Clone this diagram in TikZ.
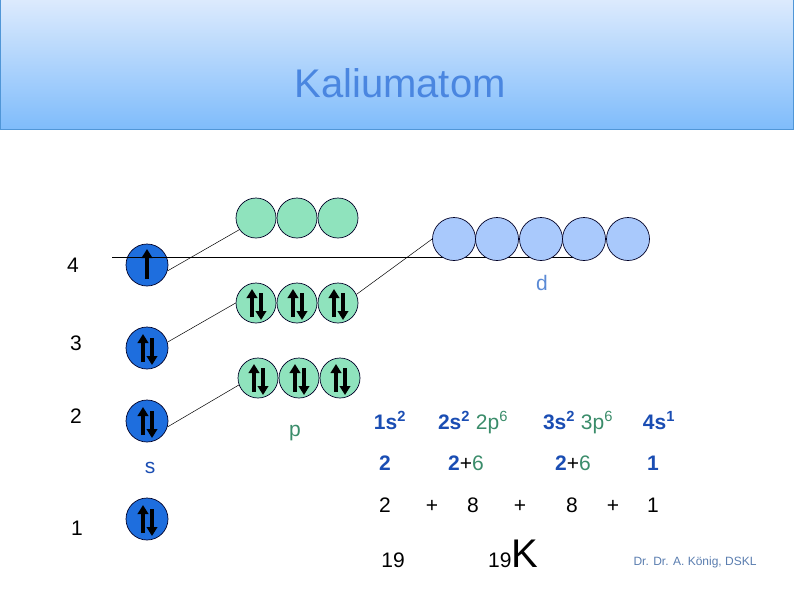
\documentclass[tikz,border=0pt]{standalone}
\usepackage{fontspec}
\setmainfont{Liberation Sans}
\usetikzlibrary{arrows.meta}

\definecolor{titletop}{RGB}{220,234,253}
\definecolor{titlebot}{RGB}{127,188,251}
\definecolor{titleline}{RGB}{80,150,215}
\definecolor{titletext}{RGB}{74,134,224}
\definecolor{sfill}{RGB}{30,110,222}
\definecolor{pfill}{RGB}{143,227,189}
\definecolor{dfill}{RGB}{169,201,252}
\definecolor{tblue}{RGB}{26,77,179}
\definecolor{tgreen}{RGB}{58,140,106}
\definecolor{dtext}{RGB}{91,138,213}
\definecolor{credit}{RGB}{90,125,175}

\newcommand{\spinup}[1]{%
  \draw[spin] ([yshift=-14pt]#1.center) -- ([yshift=16pt]#1.center);}
\newcommand{\spinpair}[1]{%
  \draw[spin] ([xshift=-4pt,yshift=-14pt]#1.center) -- ([xshift=-4pt,yshift=14pt]#1.center);
  \draw[spin] ([xshift=5pt,yshift=10pt]#1.center) -- ([xshift=5pt,yshift=-17pt]#1.center);}

\begin{document}
\begin{tikzpicture}[
    x=1pt, y=-1pt,
    orbital/.style={
        circle, draw=black!85!blue, line width=0.7pt,
        inner sep=0pt
    },
    sorb/.style={orbital, fill=sfill, minimum size=42pt},
    porb/.style={orbital, fill=pfill, minimum size=40pt},
    dorb/.style={orbital, fill=dfill, minimum size=43pt},
    spin/.style={-{Triangle[width=10.5pt,length=9pt]}, line width=3.6pt},
    link/.style={line width=0.5pt},
    lbl/.style={font=\fontsize{21}{25}\selectfont},
    row/.style={anchor=base, font=\fontsize{21}{25}\selectfont},
    bluebold/.style={row, text=tblue, font=\fontsize{21}{25}\selectfont\bfseries},
]
\useasboundingbox (0,0) rectangle (794,595);

% Titel
\shade[top color=titletop, bottom color=titlebot] (0,0) rectangle (793.5,129);
\draw[titleline, line width=1pt] (0.5,0) -- (0.5,129) -- (793.5,129) -- (793.5,0);
\node[font=\fontsize{40}{42}\selectfont, text=titletext] (title) at (400,83) {Kaliumatom};

% Schalen
\node[lbl] (n4) at (73,265) {4};
\node[lbl] (n3) at (76,343) {3};
\node[lbl] (n2) at (76,416) {2};
\node[lbl] (n1) at (77,528) {1};

% s-Orbitale
\node[sorb] (s4) at (147,265) {};
\node[sorb] (s3) at (147,348) {};
\node[sorb] (s2) at (147,421) {};
\node[sorb] (s1) at (147,519) {};
\node[lbl, text=tblue] (slbl) at (150,468) {s};

% p-Orbitale
\node[porb] (p4a) at (256,218) {};
\node[porb] (p4b) at (297,218) {};
\node[porb] (p4c) at (338,218) {};
\node[porb] (p3a) at (256,303) {};
\node[porb] (p3b) at (297,303) {};
\node[porb] (p3c) at (338,303) {};
\node[porb] (p2a) at (258,378) {};
\node[porb] (p2b) at (299,378) {};
\node[porb] (p2c) at (340,378) {};
\node[lbl, text=tgreen] (plbl) at (295,433) {p};

% Niveau 4
\coordinate (lvl4w) at (112,257);
\coordinate (lvl4e) at (592,257);
\draw[link, line width=0.7pt] (lvl4w) -- (lvl4e);

% d-Orbitale
\node[dorb] (d3a) at (454,239) {};
\node[dorb] (d3b) at (497,239) {};
\node[dorb] (d3c) at (541,239) {};
\node[dorb] (d3d) at (584,239) {};
\node[dorb] (d3e) at (628,239) {};
\node[lbl, text=dtext] (dlbl) at (542,283) {d};

% Elektronen
\spinup{s4}
\spinpair{s3}
\spinpair{s2}
\spinpair{s1}
\spinpair{p3a}
\spinpair{p3b}
\spinpair{p3c}
\spinpair{p2a}
\spinpair{p2b}
\spinpair{p2c}

% Verbindungen
\draw[link] (s4.-16) -- (p4a.215);
\draw[link] (s3.16) -- (p3a.180);
\draw[link] (s2.-16) -- (p2a.200);
\draw[link] (p3c.25) -- (d3a.180);

% Konfiguration
\node[bluebold] (k1) at (390,429) {1s\textsuperscript{2}};
\node[row] (k2) at (473,429) {{\bfseries\color{tblue}2s\textsuperscript{2}} {\color{tgreen}2p\textsuperscript{6}}};
\node[row] (k3) at (578,429) {{\bfseries\color{tblue}3s\textsuperscript{2}} {\color{tgreen}3p\textsuperscript{6}}};
\node[bluebold] (k4) at (659,429) {4s\textsuperscript{1}};

\node[bluebold] (e1) at (385,470) {2};
\node[row] (e2) at (466,470) {{\bfseries\color{tblue}2}+{\color{tgreen}6}};
\node[row] (e3) at (573,470) {{\bfseries\color{tblue}2}+{\color{tgreen}6}};
\node[bluebold] (e4) at (653,470) {1};

\node[row] (z1) at (385,512) {2};
\node[row] (z2) at (432,512) {+};
\node[row] (z3) at (473,512) {8};
\node[row] (z4) at (520,512) {+};
\node[row] (z5) at (572,512) {8};
\node[row] (z6) at (613,512) {+};
\node[row] (z7) at (653,512) {1};

\node[row] (sum) at (393,567) {19};
\node[row, anchor=base west, inner sep=0pt] (elem) at (488,567) {19{\fontsize{40}{40}\selectfont K}};

\node[font=\fontsize{12}{14}\selectfont, text=credit] (autor) at (695,562) {Dr. Dr. A. König, DSKL};

\end{tikzpicture}
\end{document}
